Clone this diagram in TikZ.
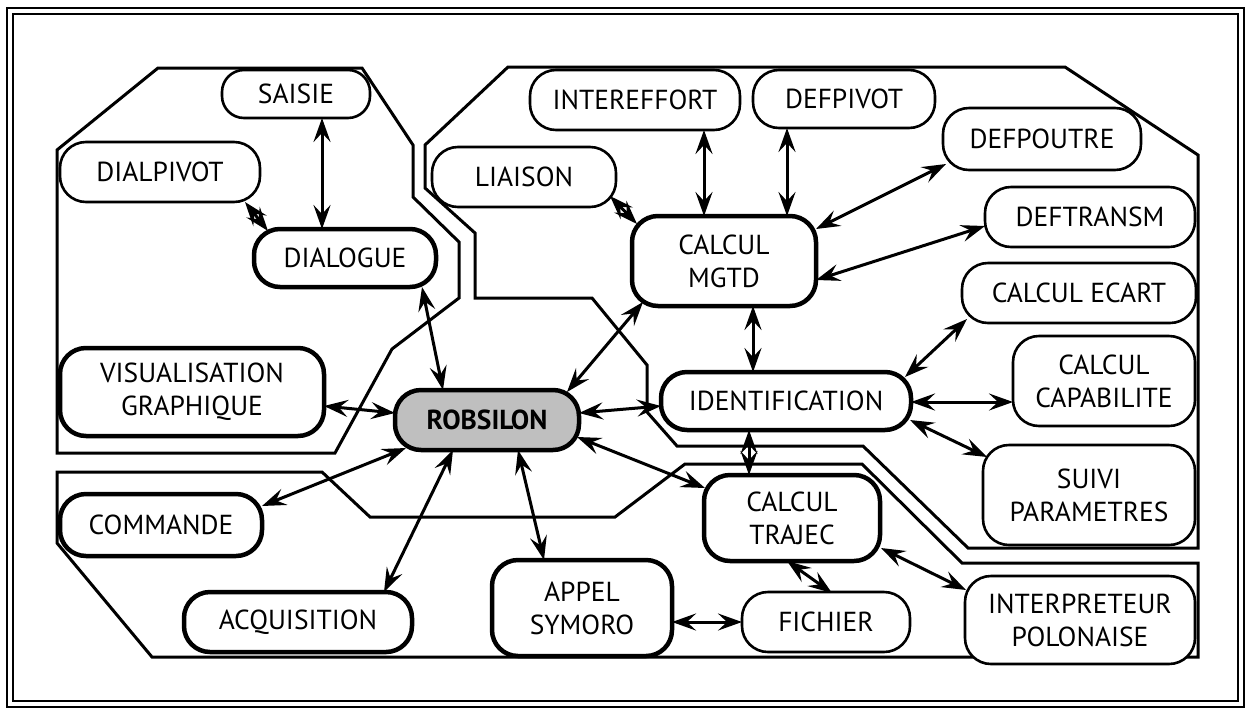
\documentclass[tikz,border=0pt]{standalone}
\usepackage{fontspec}
\setmainfont{PT Sans}
\usetikzlibrary{arrows.meta}
\begin{document}
\begin{tikzpicture}[x=1pt,y=-1pt,
  box/.style={draw, fill=white, line width=2.6pt, rounded corners=26pt, align=center,
    font=\fontsize{27.5}{33}\selectfont, inner sep=0pt},
  tbox/.style={box, line width=4.5pt},
  region/.style={draw, line width=3pt, line join=miter},
  arr/.style={line width=3pt,
    {Stealth[length=24pt,width=17pt,inset=9pt]}-{Stealth[length=24pt,width=17pt,inset=9pt]}},
]
\useasboundingbox (0,0) rectangle (1249,710);
% frame
\draw[line width=2.8pt] (7,8) rectangle (1244,707);
\draw[line width=1.8pt] (13,14) rectangle (1238,701);
% regions
\draw[region] (57,150) -- (158,68) -- (362,68) -- (413,145) -- (413,197) -- (459,242)
  -- (459,298) -- (392,349) -- (335,453) -- (57,453) -- cycle;
\draw[region] (425,145) -- (508,67) -- (1065,67) -- (1198,155) -- (1198,548) -- (968,548)
  -- (863,446) -- (677,446) -- (647,412) -- (647,365) -- (592,298) -- (475,298)
  -- (475,233) -- (425,188) -- cycle;
\draw[region] (57,472) -- (322,472) -- (370,517) -- (615,517) -- (685,464) -- (862,464)
  -- (962,563) -- (1198,563) -- (1198,657) -- (152,657) -- (57,543) -- cycle;
% nodes
\node[box, minimum width=148, minimum height=48, rounded corners=22pt] (saisie) at (296,94) {SAISIE};
\node[box, minimum width=200, minimum height=60] (dialpivot) at (160,172) {DIALPIVOT};
\node[tbox, minimum width=182, minimum height=58] (dialogue) at (345,258) {DIALOGUE};
\node[box, minimum width=210, minimum height=60] (intereffort) at (635,100) {INTEREFFORT};
\node[box, minimum width=182, minimum height=58] (defpivot) at (844,99) {DEFPIVOT};
\node[box, minimum width=198, minimum height=62] (defpoutre) at (1042,139) {DEFPOUTRE};
\node[box, minimum width=184, minimum height=60] (liaison) at (524,177) {LIAISON};
\node[box, minimum width=210, minimum height=60] (deftransm) at (1090,217) {DEFTRANSM};
\node[tbox, minimum width=184, minimum height=90] (mgtd) at (724,261) {CALCUL\\MGTD};
\node[box, minimum width=234, minimum height=60] (calcecart) at (1079,293) {CALCUL ECART};
\node[box, minimum width=182, minimum height=90] (capab) at (1104,381) {CALCUL\\CAPABILITE};
\node[tbox, minimum width=250, minimum height=58] (ident) at (786,401) {IDENTIFICATION};
\node[box, minimum width=212, minimum height=100] (suivi) at (1089,495) {SUIVI\\PARAMETRES};
\node[tbox, minimum width=264, minimum height=88] (visu) at (192,392) {VISUALISATION\\GRAPHIQUE};
\node[tbox, fill=gray!50, minimum width=184, minimum height=60,
  font=\fontsize{27.5}{33}\selectfont\bfseries] (robsilon) at (487,420) {ROBSILON};
\node[tbox, minimum width=202, minimum height=62] (commande) at (161,525) {COMMANDE};
\node[tbox, minimum width=176, minimum height=86] (trajec) at (792,518) {CALCUL\\TRAJEC};
\node[tbox, minimum width=228, minimum height=60] (acq) at (298,622) {ACQUISITION};
\node[tbox, minimum width=180, minimum height=96] (appel) at (582,608) {APPEL\\SYMORO};
\node[box, minimum width=168, minimum height=60] (fichier) at (826,622) {FICHIER};
\node[box, minimum width=230, minimum height=88] (interp) at (1080,620) {INTERPRETEUR\\POLONAISE};
% connectors
\draw[arr] ([shift={(26,24)}]saisie.center) -- ([shift={(-23,-29)}]dialogue.center);
\draw[arr] ([shift={(85,30)}]dialpivot.center) -- ([shift={(-77,-27)}]dialogue.center);
\draw[arr] ([shift={(77,29)}]dialogue.center) -- ([shift={(-44,-30)}]robsilon.center);
\draw[arr] ([shift={(132,14)}]visu.center) -- ([shift={(-92,-7)}]robsilon.center);
\draw[arr] ([shift={(101,-19)}]commande.center) -- ([shift={(-81,28)}]robsilon.center);
\draw[arr] ([shift={(86,-30)}]acq.center) -- ([shift={(-34,30)}]robsilon.center);
\draw[arr] ([shift={(-38,-48)}]appel.center) -- ([shift={(31,30)}]robsilon.center);
\draw[arr] ([shift={(90,17)}]robsilon.center) -- ([shift={(-87,-30)}]trajec.center);
\draw[arr] ([shift={(92,-7)}]robsilon.center) -- ([shift={(-125,5)}]ident.center);
\draw[arr] ([shift={(80,-28)}]robsilon.center) -- ([shift={(-81,41)}]mgtd.center);
\draw[arr] ([shift={(29,45)}]mgtd.center) -- ([shift={(-33,-29)}]ident.center);
\draw[arr] ([shift={(-37,29)}]ident.center) -- ([shift={(-43,-43)}]trajec.center);
\draw[arr] ([shift={(69,30)}]intereffort.center) -- ([shift={(-20,-45)}]mgtd.center);
\draw[arr] ([shift={(-57,29)}]defpivot.center) -- ([shift={(63,-45)}]mgtd.center);
\draw[arr] ([shift={(86,19)}]liaison.center) -- ([shift={(-87,-37)}]mgtd.center);
\draw[arr] ([shift={(-96,25)}]defpoutre.center) -- ([shift={(92,-32)}]mgtd.center);
\draw[arr] ([shift={(-105,9)}]deftransm.center) -- ([shift={(92,19)}]mgtd.center);
\draw[arr] ([shift={(-112,26)}]calcecart.center) -- ([shift={(119,-24)}]ident.center);
\draw[arr] ([shift={(125,1)}]ident.center) -- ([shift={(-91,21)}]capab.center);
\draw[arr] ([shift={(124,19)}]ident.center) -- ([shift={(-102,-38)}]suivi.center);
\draw[arr] ([shift={(89,30)}]trajec.center) -- ([shift={(-114,-30)}]interp.center);
\draw[arr] ([shift={(-5,43)}]trajec.center) -- ([shift={(6,-29)}]fichier.center);
\draw[arr] ([shift={(90,14)}]appel.center) -- ([shift={(-84,0)}]fichier.center);
\end{tikzpicture}
\end{document}
